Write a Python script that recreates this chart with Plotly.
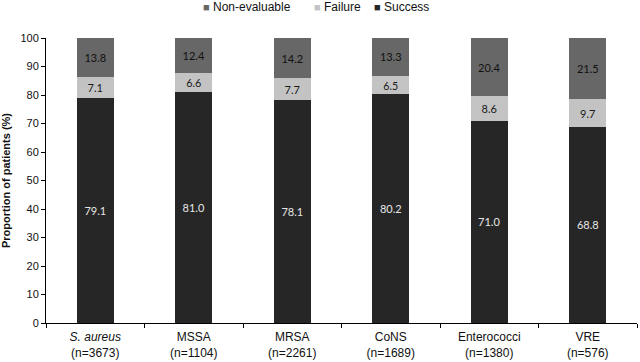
import plotly.graph_objects as go

categories = ["<i>S. aureus</i><br>(n=3673)", "MSSA<br>(n=1104)", "MRSA<br>(n=2261)",
              "CoNS<br>(n=1689)", "Enterococci<br>(n=1380)", "VRE<br>(n=576)"]
success = [79.1, 81.0, 78.1, 80.2, 71.0, 68.8]
failure = [7.1, 6.6, 7.7, 6.5, 8.6, 9.7]
non_evaluable = [13.8, 12.4, 14.2, 13.3, 20.4, 21.5]
y_ticks = [0, 10, 20, 30, 40, 50, 60, 70, 80, 90, 100]

series = [
    ("Success", success, "#262626", "#e6e6e6"),
    ("Failure", failure, "#c3c3c3", "#1a1a1a"),
    ("Non-evaluable", non_evaluable, "#676767", "#111111"),
]

W, H = 640, 362
ML, MR, MT, MB = 46, 3, 38, 39
PW, PH = W - ML - MR, H - MT - MB

fig = go.Figure()
for name, vals, color, tcolor in series:
    fig.add_trace(go.Bar(
        name=name, x=categories, y=vals,
        marker=dict(color=color, line=dict(width=0)),
        text=[f"{v:.1f}" for v in vals],
        textposition="inside", insidetextanchor="middle", textangle=0,
        textfont=dict(family="Lato", size=11, color=tcolor),
        width=0.375, showlegend=False,
    ))

# legend drawn as a row of key texts at the top (left edge pixel of each key)
legend_keys = [("Non-evaluable", "#676767", 201), ("Failure", "#c3c3c3", 312), ("Success", "#262626", 372)]
for name, color, px in legend_keys:
    fig.add_annotation(
        xref="paper", yref="paper",
        x=(px - ML) / PW, y=1 + (MT - 7.5) / PH,
        xanchor="left", yanchor="middle", showarrow=False,
        text=f"<span style='color:{color};font-size:11px'>■</span> {name}",
        font=dict(family="Liberation Sans", size=12, color="#111111"),
    )

fig.update_layout(
    barmode="stack",
    width=W, height=H,
    margin=dict(l=ML, r=MR, t=MT, b=MB, autoexpand=False),
    paper_bgcolor="white", plot_bgcolor="white",
    font=dict(family="Liberation Sans", size=11, color="#111111"),
    showlegend=False,
)
fig.update_xaxes(
    showline=True, linecolor="black", linewidth=1,
    ticks="outside", tickson="boundaries", ticklen=4, tickcolor="black",
    tickfont=dict(size=12), ticklabelstandoff=3, showgrid=False,
)
fig.update_yaxes(
    range=[0, 100], tickvals=y_ticks, showline=True, linecolor="black", linewidth=1,
    ticks="outside", ticklen=4, tickcolor="black", showgrid=False, zeroline=False,
    tickfont=dict(size=11),
    title=dict(text="<b>Proportion of patients (%)</b>", font=dict(size=11), standoff=10),
)

fig.write_html("out.html", config={"displayModeBar": False},
               post_script="document.body.style.margin='0';")
